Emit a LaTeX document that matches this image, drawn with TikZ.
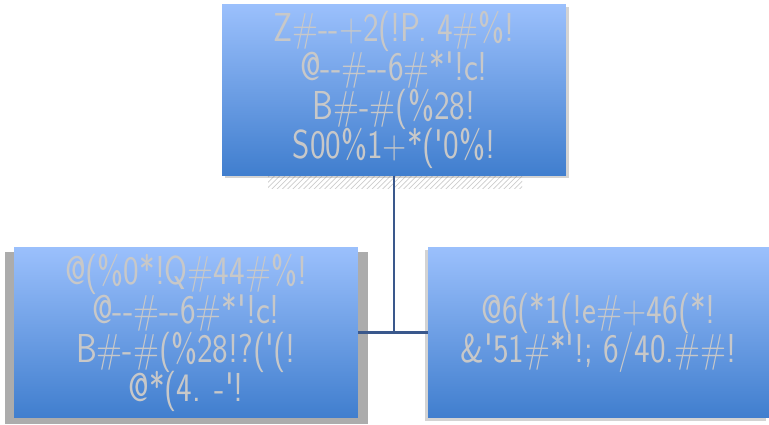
\documentclass[tikz,border=0pt]{standalone}
\usepackage{tikz}
\usepackage{fontspec}
\usetikzlibrary{shadows,patterns}
\newfontfamily\boxfont[Ligatures=TeXOff, FakeStretch=0.82]{Latin Modern Sans}
\newcommand\boxsize{\fontsize{23}{22.2}\selectfont\lineskiplimit=-20pt\relax}
\definecolor{boxtop}{RGB}{155,192,252}
\definecolor{boxbot}{RGB}{64,126,206}
\definecolor{linkblue}{RGB}{58,88,140}
\definecolor{txtgray}{RGB}{200,200,200}
\tikzset{orgbox/.style={rectangle, top color=boxtop, bottom color=boxbot, text=txtgray, font=\boxfont\boxsize, align=center, inner sep=0pt, minimum width=6.88cm, minimum height=3.42cm}}

\begin{document}
\begin{tikzpicture}[x=0.02cm, y=-0.02cm]
\useasboundingbox (0,0) rectangle (769,424); % frame
\fill[pattern=north east lines, pattern color=gray!40] (268,176) rectangle (522,188); % strip under top box
\fill[gray!65] (5,252) rectangle (368,424); % shadow left box
\node[orgbox, drop shadow={shadow xshift=1.5pt, shadow yshift=-1.5pt, opacity=0.35}] (top) at (394,90) {Z\#--+2(!P. 4\#\%!\\@--\#--6\#*'!c!\\B\#-\#(\%28!\\S00\%1+*('0\%!}; % top box
\node[orgbox] (left) at (186,332.5) {@(\%0*!Q\#44\#\%!\\@--\#--6\#*'!c!\\B\#-\#(\%28!?('(!\\@*(4. -'!}; % left box
\node[orgbox, minimum width=6.82cm, drop shadow={shadow xshift=-1.5pt, shadow yshift=-1.5pt, opacity=0.35}] (right) at (598.5,332.5) {@6(*1(!e\#+46(*!\\\&'51\#*'!; 6/40.\#\#!}; % right box
\draw[linkblue, line width=1.2pt] (top.south) |- (left.east); % trunk
\draw[linkblue, line width=1.2pt] (left.east) -- (right.west); % branch
\end{tikzpicture}
\end{document}
